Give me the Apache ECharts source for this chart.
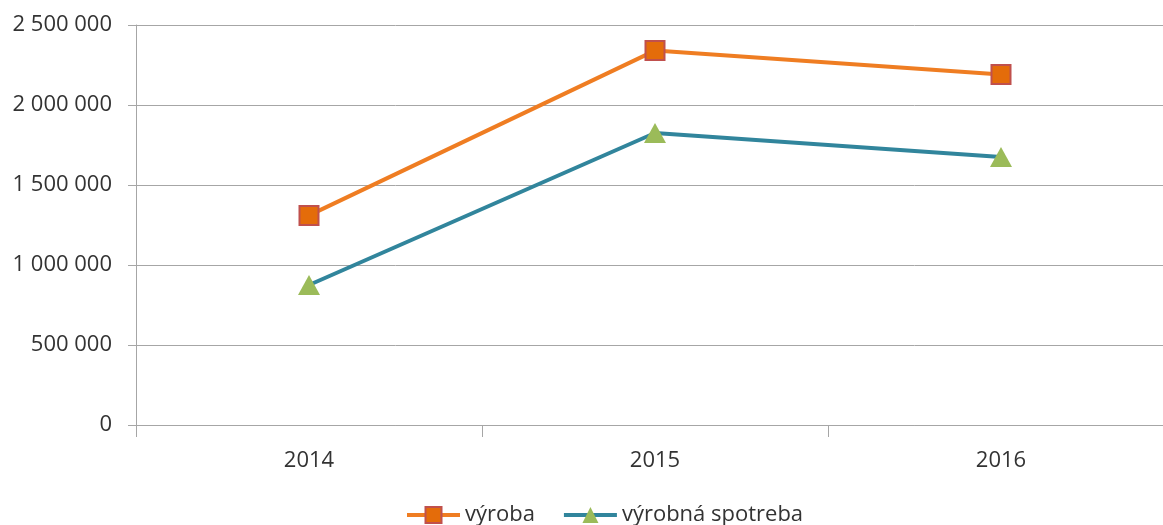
<!DOCTYPE html>
<html>
<head>
<meta charset="utf-8">
<script src="https://cdn.jsdelivr.net/npm/echarts@6/dist/echarts.min.js"></script>
<style>
  html, body { margin: 0; padding: 0; background: #fff; overflow: hidden; }
  #chart { width: 1174px; height: 525px; }
</style>
</head>
<body>
<div id="chart"></div>
<script>
const years = ['2014', '2015', '2016']
const vyroba = [1310000, 2340000, 2190000]
const spotreba = [875000, 1825000, 1675000]

const fmt = (v) => String(v).replace(/\B(?=(\d{3})+(?!\d))/g, ' ')
const font = '"Open Sans", sans-serif'

const chart = echarts.init(document.getElementById('chart'))

chart.setOption({
  animation: false,
  grid: { left: 136, right: 0, top: 25, bottom: 100 },
  legend: {
    top: 499,
    left: 400,
    itemWidth: 53,
    itemHeight: 20,
    itemGap: 27,
    textStyle: { fontFamily: font, fontSize: 22, color: '#333' },
    lineStyle: { width: 4 },
    data: ['výroba', 'výrobná spotreba']
  },
  xAxis: {
    type: 'category',
    data: years,
    boundaryGap: true,
    axisLine: { lineStyle: { color: '#A6A6A6', width: 1 } },
    axisTick: { show: true, length: 12, lineStyle: { color: '#A6A6A6' } },
    axisLabel: { margin: 25, fontFamily: font, fontSize: 22, color: '#333' }
  },
  yAxis: {
    type: 'value',
    min: 0,
    max: 2500000,
    interval: 500000,
    axisLine: { show: true, lineStyle: { color: '#A6A6A6', width: 1 } },
    axisTick: { show: true, length: 8, lineStyle: { color: '#A6A6A6' } },
    splitLine: { lineStyle: { color: '#A6A6A6', width: 1 } },
    axisLabel: { margin: 24, fontFamily: font, fontSize: 22, color: '#333', formatter: fmt }
  },
  series: [
    {
      name: 'výroba',
      type: 'line',
      data: vyroba,
      symbol: 'rect',
      symbolSize: 19,
      lineStyle: { color: '#EF7D22', width: 4 },
      itemStyle: { color: '#E46C0A', borderColor: '#C0504D', borderWidth: 2 }
    },
    {
      name: 'výrobná spotreba',
      type: 'line',
      data: spotreba,
      symbol: 'triangle',
      symbolSize: [22, 20],
      lineStyle: { color: '#31859C', width: 4 },
      itemStyle: { color: '#9BBB59', borderWidth: 0 }
    }
  ]
})
</script>
</body>
</html>
